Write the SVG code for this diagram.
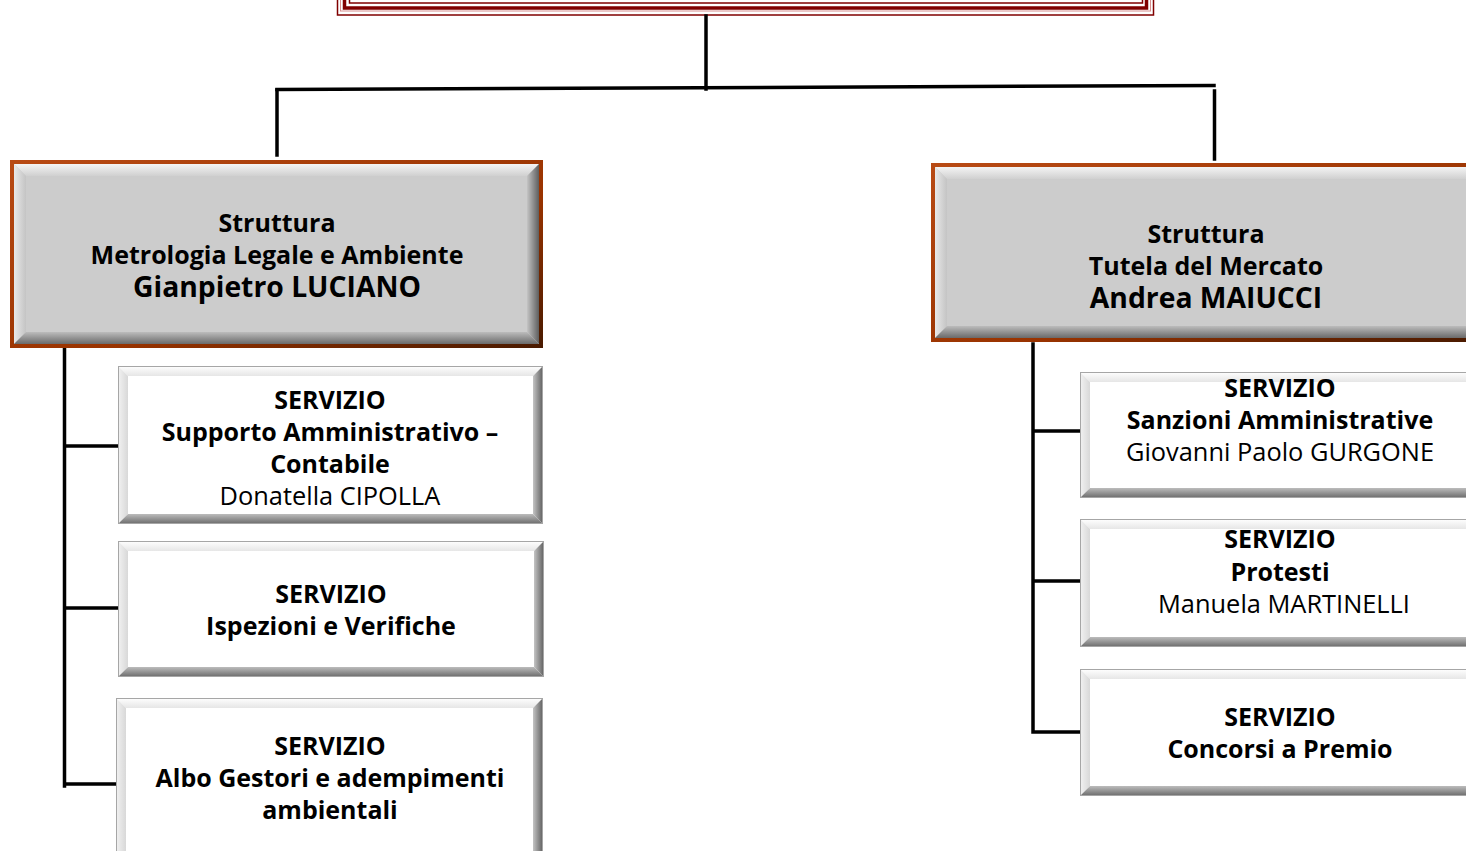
<svg xmlns="http://www.w3.org/2000/svg" width="1466" height="851" viewBox="0 0 1466 851">
<defs>
<linearGradient id="gTop" x1="0" y1="0" x2="0" y2="1"><stop offset="0" stop-color="#ffffff"/><stop offset="1" stop-color="#e6e6e6"/></linearGradient>
<linearGradient id="gLeft" x1="0" y1="0" x2="1" y2="0"><stop offset="0" stop-color="#f2f2f2"/><stop offset="1" stop-color="#d8d8d8"/></linearGradient>
<linearGradient id="gRight" x1="0" y1="0" x2="1" y2="0"><stop offset="0" stop-color="#c4c4c4"/><stop offset="1" stop-color="#5e5e5e"/></linearGradient>
<linearGradient id="gBottom" x1="0" y1="0" x2="0" y2="1"><stop offset="0" stop-color="#bcbcbc"/><stop offset="1" stop-color="#6a6a6a"/></linearGradient>
<linearGradient id="gTopS" x1="0" y1="0" x2="0" y2="1"><stop offset="0" stop-color="#f4f4f4"/><stop offset="1" stop-color="#d0d0d0"/></linearGradient>
<linearGradient id="gLeftS" x1="0" y1="0" x2="1" y2="0"><stop offset="0" stop-color="#e8e8e8"/><stop offset="1" stop-color="#c4c4c4"/></linearGradient>
<linearGradient id="brown" x1="0" y1="0" x2="1" y2="1"><stop offset="0" stop-color="#b84a14"/><stop offset="0.6" stop-color="#993300"/><stop offset="1" stop-color="#4a1a00"/></linearGradient>
</defs>
<style>
.face{fill:#ffffff}
.faceS{fill:#cccccc}
.bt{fill:url(#gTop)}
.bl{fill:url(#gLeft)}
.br{fill:url(#gRight)}
.bb{fill:url(#gBottom)}
.btS{fill:url(#gTopS)}
.blS{fill:url(#gLeftS)}
.edge{fill:none;stroke:#a6a6a6;stroke-width:1}
.brd{fill:none;stroke:url(#brown);stroke-width:4}
.conn{fill:none;stroke:#000000;stroke-width:3.5;stroke-linecap:square}
text{font-family:"Open Sans","Noto Sans","DejaVu Sans",sans-serif;text-anchor:middle;fill:#000000}
.b{font-weight:bold;font-size:25px}
.n{font-weight:normal;font-size:25.4px}
.big{font-weight:bold;font-size:28.3px}
.dr{fill:none;stroke:#800000}
</style>

<g id="top-box">
<rect x="337.5" y="-20" width="816" height="35" class="dr" stroke-width="1.5"/>
<rect x="340.5" y="-20" width="810" height="31" fill="none" stroke="#d89090" stroke-width="1"/>
<rect x="344.5" y="-20" width="802" height="28" class="dr" stroke-width="3.5"/>
<rect x="349.5" y="-20" width="793" height="23" class="dr" stroke-width="1.5"/>
</g>

<g id="connectors">
<path class="conn" d="M706,16 V89"/>
<path class="conn" d="M277,89.5 L1214,85.5"/>
<path class="conn" d="M277,90 V155"/>
<path class="conn" d="M1214.5,91 V159"/>
<path class="conn" d="M64.5,349 V786 M64.5,446 H117 M64.5,608 H117 M64.5,784 H115"/>
<path class="conn" d="M1033,344 V732 M1033,431 H1079 M1033,581 H1079 M1033,732 H1079"/>
</g>

<g id="struttura-metrologia">
<rect x="12" y="162" width="529" height="184" class="faceS"/>
<polygon class="btS" points="14,164 539,164 527,176 26,176"/>
<polygon class="blS" points="14,164 26,176 26,332 14,344"/>
<polygon class="br" points="539,164 539,344 527,332 527,176"/>
<polygon class="bb" points="14,344 26,332 527,332 539,344"/>
<rect x="12" y="162" width="529" height="184" class="brd"/>
<text x="277" y="232" class="b">Struttura</text>
<text x="277" y="264" class="b">Metrologia Legale e Ambiente</text>
<text x="277" y="297" class="big">Gianpietro LUCIANO</text>
</g>

<g id="struttura-tutela">
<rect x="933" y="165" width="548" height="175" class="faceS"/>
<polygon class="btS" points="935,167 1479,167 1467,179 947,179"/>
<polygon class="blS" points="935,167 947,179 947,326 935,338"/>
<polygon class="br" points="1479,167 1479,338 1467,326 1467,179"/>
<polygon class="bb" points="935,338 947,326 1467,326 1479,338"/>
<rect x="933" y="165" width="548" height="175" class="brd"/>
<text x="1206" y="243" class="b">Struttura</text>
<text x="1206" y="275" class="b">Tutela del Mercato</text>
<text x="1206" y="308" class="big">Andrea MAIUCCI</text>
</g>

<g id="servizio-supporto">
<rect x="118" y="366" width="425" height="158" class="face"/>
<polygon class="bt" points="118,366 543,366 533,376 128,376"/>
<polygon class="bl" points="118,366 128,376 128,514 118,524"/>
<polygon class="br" points="543,366 543,524 533,514 533,376"/>
<polygon class="bb" points="118,524 128,514 533,514 543,524"/>
<rect x="118.5" y="366.5" width="424" height="157" class="edge"/>
<text x="330" y="409" class="b">SERVIZIO</text>
<text x="330" y="441" class="b">Supporto Amministrativo –</text>
<text x="330" y="473" class="b">Contabile</text>
<text x="330" y="505" class="n">Donatella CIPOLLA</text>
</g>

<g id="servizio-ispezioni">
<rect x="118" y="541" width="426" height="136" class="face"/>
<polygon class="bt" points="118,541 544,541 534,551 128,551"/>
<polygon class="bl" points="118,541 128,551 128,667 118,677"/>
<polygon class="br" points="544,541 544,677 534,667 534,551"/>
<polygon class="bb" points="118,677 128,667 534,667 544,677"/>
<rect x="118.5" y="541.5" width="425" height="135" class="edge"/>
<text x="331" y="603" class="b">SERVIZIO</text>
<text x="331" y="635" class="b">Ispezioni e Verifiche</text>
</g>

<g id="servizio-albo">
<rect x="116" y="698" width="427" height="170" class="face"/>
<polygon class="bt" points="116,698 543,698 533,708 126,708"/>
<polygon class="bl" points="116,698 126,708 126,858 116,868"/>
<polygon class="br" points="543,698 543,868 533,858 533,708"/>
<rect x="116.5" y="698.5" width="426" height="169" class="edge"/>
<text x="330" y="755" class="b">SERVIZIO</text>
<text x="330" y="787" class="b">Albo Gestori e adempimenti</text>
<text x="330" y="819" class="b">ambientali</text>
</g>

<g id="servizio-sanzioni">
<rect x="1080" y="372" width="396" height="126" class="face"/>
<polygon class="bt" points="1080,372 1476,372 1466,382 1090,382"/>
<polygon class="bl" points="1080,372 1090,382 1090,488 1080,498"/>
<polygon class="br" points="1476,372 1476,498 1466,488 1466,382"/>
<polygon class="bb" points="1080,498 1090,488 1466,488 1476,498"/>
<rect x="1080.5" y="372.5" width="395" height="125" class="edge"/>
<text x="1280" y="397" class="b">SERVIZIO</text>
<text x="1280" y="429" class="b">Sanzioni Amministrative</text>
<text x="1280" y="461" class="n">Giovanni Paolo GURGONE</text>
</g>

<g id="servizio-protesti">
<rect x="1080" y="519" width="396" height="128" class="face"/>
<polygon class="bt" points="1080,519 1476,519 1466,529 1090,529"/>
<polygon class="bl" points="1080,519 1090,529 1090,637 1080,647"/>
<polygon class="br" points="1476,519 1476,647 1466,637 1466,529"/>
<polygon class="bb" points="1080,647 1090,637 1466,637 1476,647"/>
<rect x="1080.5" y="519.5" width="395" height="127" class="edge"/>
<text x="1280" y="548" class="b">SERVIZIO</text>
<text x="1280" y="581" class="b">Protesti</text>
<text x="1284" y="613" class="n">Manuela MARTINELLI</text>
</g>

<g id="servizio-concorsi">
<rect x="1080" y="669" width="396" height="127" class="face"/>
<polygon class="bt" points="1080,669 1476,669 1466,679 1090,679"/>
<polygon class="bl" points="1080,669 1090,679 1090,786 1080,796"/>
<polygon class="br" points="1476,669 1476,796 1466,786 1466,679"/>
<polygon class="bb" points="1080,796 1090,786 1466,786 1476,796"/>
<rect x="1080.5" y="669.5" width="395" height="126" class="edge"/>
<text x="1280" y="726" class="b">SERVIZIO</text>
<text x="1280" y="758" class="b">Concorsi a Premio</text>
</g>
</svg>
